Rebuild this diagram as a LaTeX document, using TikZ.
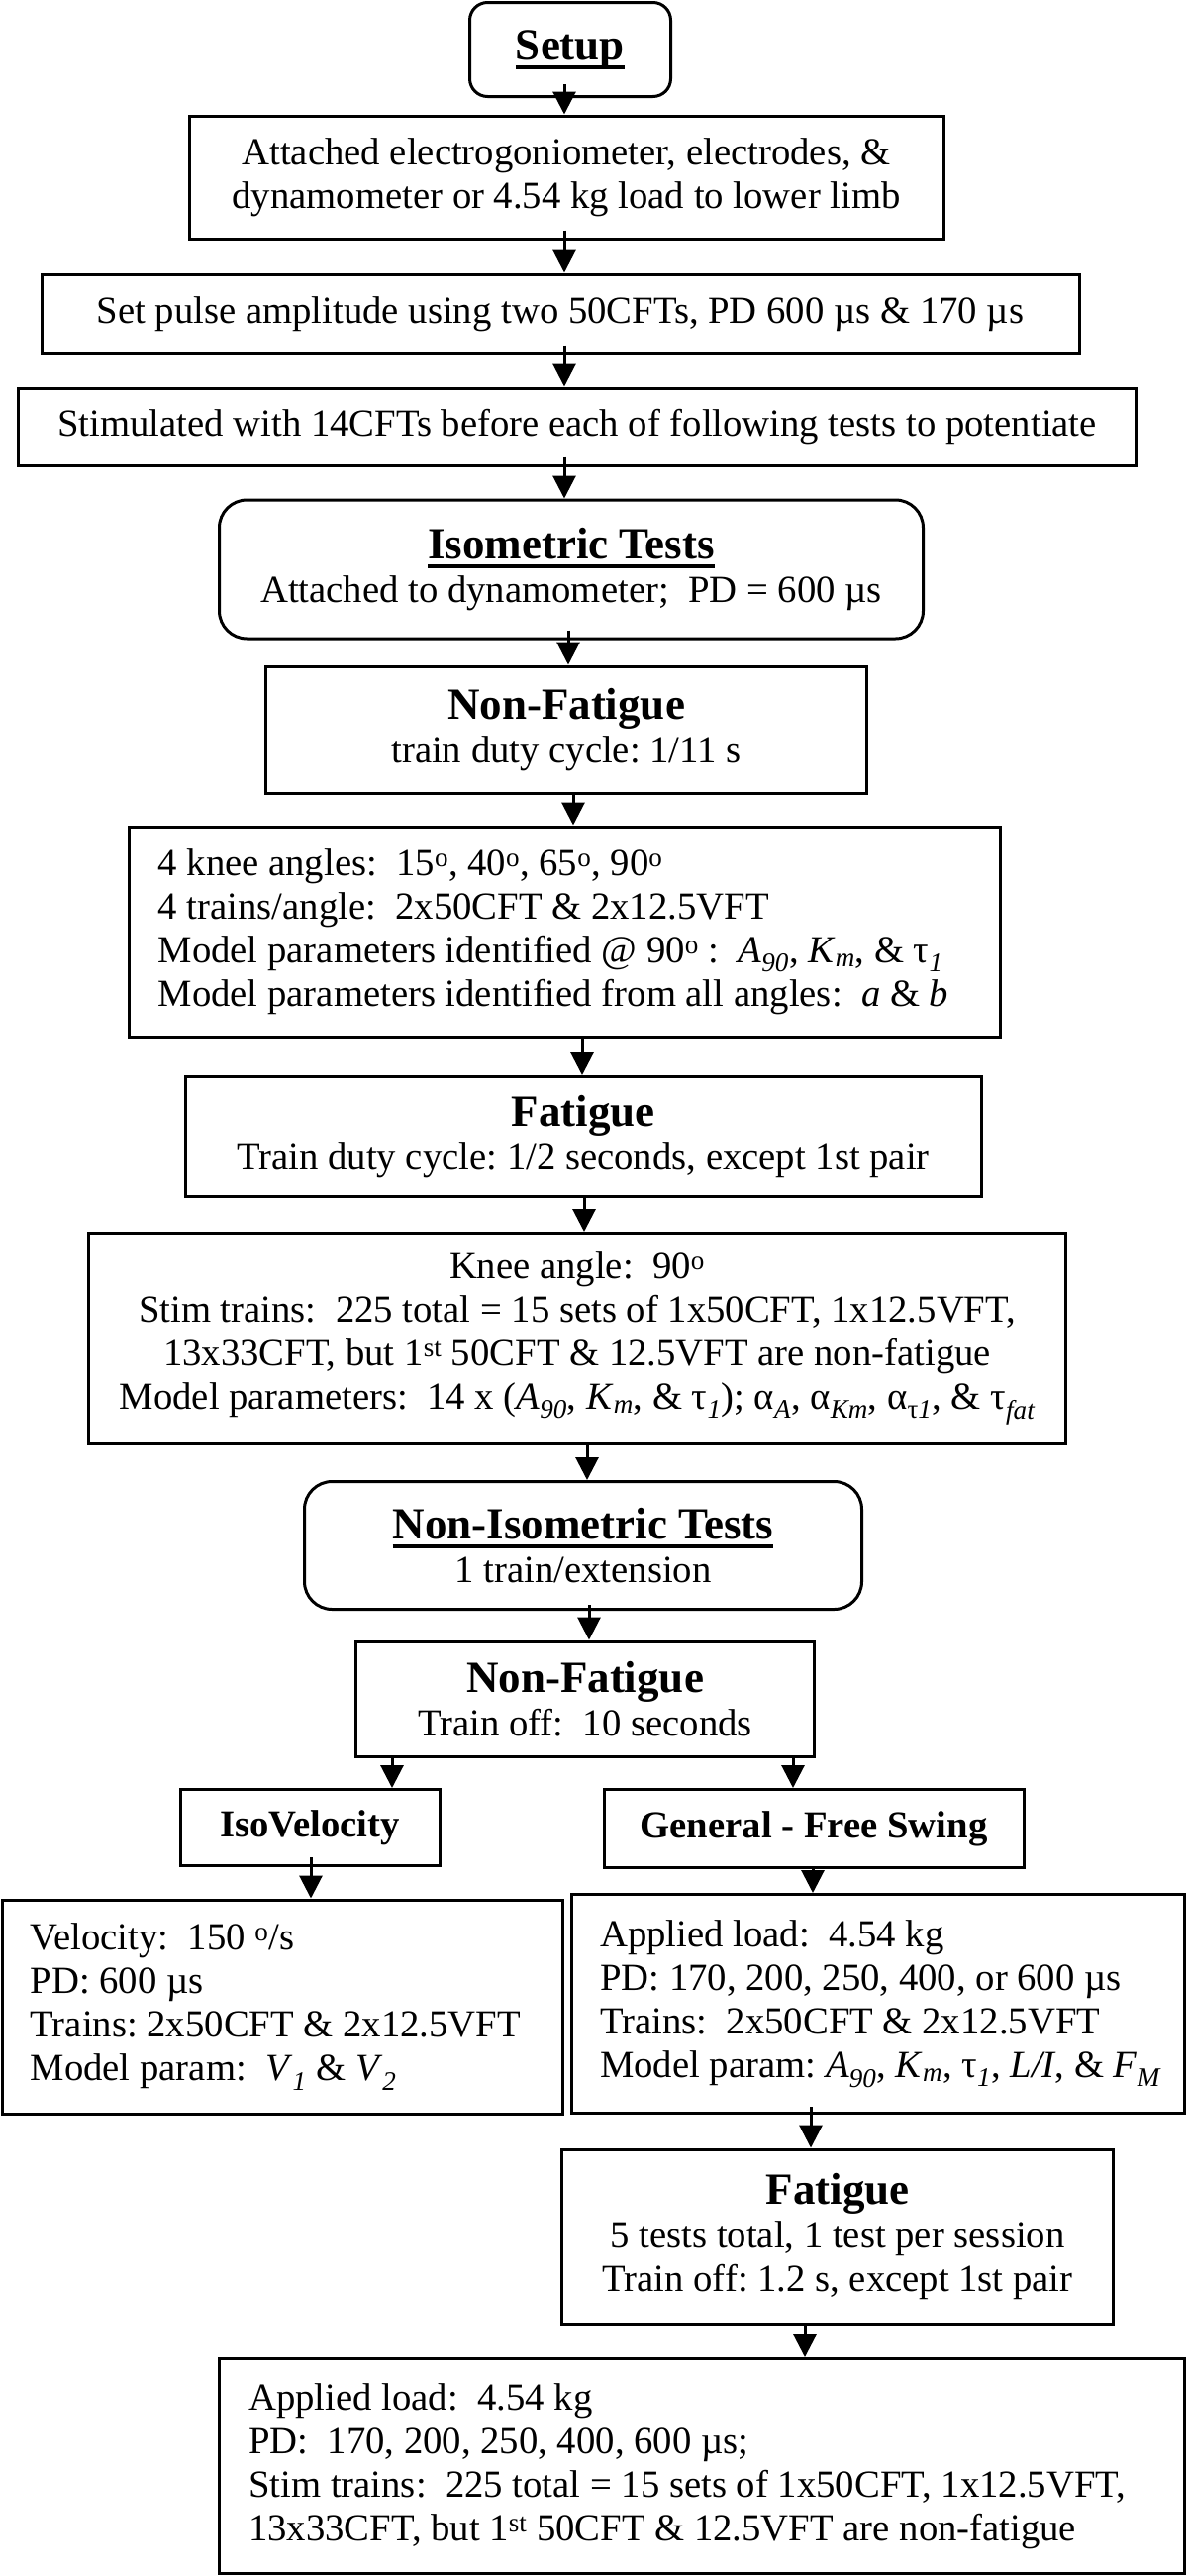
\documentclass[tikz,border=0pt]{standalone}
\usepackage{fontspec}
\setmainfont{Liberation Serif}
\usepackage{tikz}
\usetikzlibrary{arrows.meta,calc}

\newcommand{\nrm}{\fontsize{38.7}{44}\selectfont\frenchspacing}
\newcommand{\hdg}{\fontsize{45}{50}\selectfont\bfseries}
\newcommand{\hul}[1]{\setbox0\hbox{#1}\rlap{\raisebox{-9.5pt}{\rule{\wd0}{4pt}}}\box0}
\newcommand{\sbi}[1]{\textsubscript{\itshape #1}}
\newcommand{\dg}{\textsuperscript{o}}

\begin{document}
\begin{tikzpicture}[x=1pt,y=1pt,yscale=-1,
  blk/.style={draw, line width=3pt, inner sep=0pt, align=center, font=\nrm},
  rblk/.style={blk, rounded corners=18pt},
  ltxt/.style={anchor=west, inner sep=0pt, align=left, font=\nrm},
  arr/.style={line width=3pt, -{Triangle[length=23pt,width=23pt]}}]
\useasboundingbox (0,0) rectangle (1200,2602);

% Setup part
\node[rblk, minimum width=203, minimum height=95] (setup) at (576,50) {\hdg\hul{Setup}};
\node[blk, minimum width=762, minimum height=124] (attach) at (572,179) {Attached electrogoniometer, electrodes, \&\\dynamometer or 4.54 kg load to lower limb};
\node[blk, minimum width=1048, minimum height=80] (pulse) at (566,317) {Set pulse amplitude using two 50CFTs, PD 600 µs \& 170 µs};
\node[blk, minimum width=1129, minimum height=78] (stim) at (583,431) {Stimulated with 14CFTs before each of following tests to potentiate};

% Isometric tests
\node[rblk, rounded corners=28pt, minimum width=711, minimum height=140] (iso) at (577,575) {{\hdg\hul{Isometric Tests}}\\Attached to dynamometer;~ PD = 600 µs};
\node[blk, minimum width=607, minimum height=128] (nfa) at (572,737) {{\hdg Non-Fatigue}\\train duty cycle: 1/11 s};
\node[blk, minimum width=880, minimum height=212] (knee) at (570,941) {};
\node[ltxt] (knee-txt) at ([xshift=31pt]knee.west) {4 knee angles:~ 15\dg, 40\dg, 65\dg, 90\dg\\
  4 trains/angle:~ 2x50CFT \& 2x12.5VFT\\
  Model parameters identified @ 90\dg\ :~ \textit{A}\sbi{90}, \textit{K}\sbi{m}, \& τ\sbi{1}\\
  Model parameters identified from all angles:~ \textit{a} \& \textit{b}};
\node[blk, minimum width=804, minimum height=121] (fata) at (589,1148) {{\hdg Fatigue}\\Train duty cycle: 1/2 seconds, except 1st pair};
\node[blk, minimum width=987, minimum height=213] (kn) at (583,1352) {Knee angle:~ 90\dg\\
  Stim trains:~ 225 total = 15 sets of 1x50CFT, 1x12.5VFT,\\
  13x33CFT, but 1\textsuperscript{st} 50CFT \& 12.5VFT are non-fatigue\\
  Model parameters:~ 14 x (\textit{A}\sbi{90}, \textit{K}\sbi{m}, \& τ\sbi{1}); α\sbi{A}, α\sbi{Km}, α\textsubscript{τ\textit{1}}, \& τ\sbi{fat}};

% Non-isometric tests
\node[rblk, rounded corners=28pt, minimum width=563, minimum height=129] (noniso) at (589,1561) {{\hdg\hul{Non-Isometric Tests}}\\1 train/extension};
\node[blk, minimum width=463, minimum height=116] (nfb) at (591,1716) {{\hdg Non-Fatigue}\\Train off:~ 10 seconds};
\node[blk, minimum width=262, minimum height=77] (isovel) at (313,1846) {\bfseries IsoVelocity};
\node[blk, minimum width=424, minimum height=79] (gen) at (822,1847) {\bfseries General - Free Swing};
\node[blk, minimum width=566, minimum height=216] (vel) at (285,2027) {};
\node[ltxt] (vel-txt) at ([xshift=30pt]vel.west) {Velocity:~ 150 \dg/s\\
  PD: 600 µs\\
  Trains: 2x50CFT \& 2x12.5VFT\\
  Model param:~ \textit{V}\sbi{1} \& \textit{V}\sbi{2}};
\node[blk, minimum width=619, minimum height=221] (appl) at (887,2024) {};
\node[ltxt] (appl-txt) at ([xshift=30pt]appl.west) {Applied load:~ 4.54 kg\\
  PD: 170, 200, 250, 400, or 600 µs\\
  Trains:~ 2x50CFT \& 2x12.5VFT\\
  Model param: \textit{A}\sbi{90}, \textit{K}\sbi{m}, τ\sbi{1}, \textit{L/I}, \& \textit{F}\sbi{M}};
\node[blk, minimum width=557, minimum height=176] (fatb) at (846,2259) {{\hdg Fatigue}\\5 tests total, 1 test per session\\Train off: 1.2 s, except 1st pair};
\node[blk, minimum width=975, minimum height=217] (fin) at (709,2491) {};
\node[ltxt] (fin-txt) at ([xshift=31pt]fin.west) {Applied load:~ 4.54 kg\\
  PD:~ 170, 200, 250, 400, 600 µs;\\
  Stim trains:~ 225 total = 15 sets of 1x50CFT, 1x12.5VFT,\\
  13x33CFT, but 1\textsuperscript{st} 50CFT \& 12.5VFT are non-fatigue};

% Arrows
\draw[arr] ($(setup.south -| 570,0)+(0,-14)$) -- (attach.north -| 570,0);
\draw[arr] ($(attach.south -| 570,0)+(0,-10)$) -- (pulse.north -| 570,0);
\draw[arr] ($(pulse.south -| 570,0)+(0,-10)$) -- (stim.north -| 570,0);
\draw[arr] ($(stim.south -| 570,0)+(0,-10)$) -- (iso.north -| 570,0);
\draw[arr] ($(iso.south -| 574,0)+(0,-10)$) -- (nfa.north -| 574,0);
\draw[arr] (nfa.south -| 579,0) -- (knee.north -| 579,0);
\draw[arr] (knee.south -| 588,0) -- (fata.north -| 588,0);
\draw[arr] (fata.south -| 590,0) -- (kn.north -| 590,0);
\draw[arr] (kn.south -| 593,0) -- (noniso.north -| 593,0);
\draw[arr] ($(noniso.south -| 595,0)+(0,-6)$) -- (nfb.north -| 595,0);
\draw[arr] (nfb.south -| 396,0) -- (isovel.north -| 396,0);
\draw[arr] (nfb.south -| 801,0) -- (gen.north -| 801,0);
\draw[arr] ($(isovel.south -| 314,0)+(0,-10)$) -- (vel.north -| 314,0);
\draw[arr] (gen.south -| 821,0) -- (appl.north -| 821,0);
\draw[arr] ($(appl.south -| 819,0)+(0,-8)$) -- (fatb.north -| 819,0);
\draw[arr] (fatb.south -| 813,0) -- (fin.north -| 813,0);
\end{tikzpicture}
\end{document}
